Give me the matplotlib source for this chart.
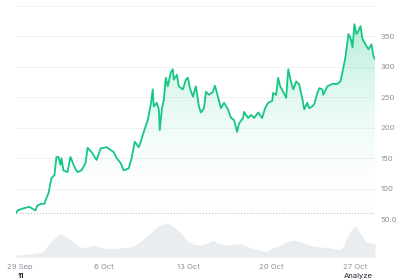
import numpy as np
import pandas as pd
import matplotlib
matplotlib.use('Agg')
import matplotlib.pyplot as plt
import matplotlib.dates as mdates
from matplotlib.colors import LinearSegmentedColormap

plt.rcParams['font.family'] = ['Inter', 'DejaVu Sans']

start = pd.Timestamp('2023-09-29')

# price: days after 29 Sep, value
price_days = [-0.36, -0.23, 0.17, 0.75, 1.01, 1.26, 1.42, 1.76, 2.01, 2.18,
              2.35, 2.60, 2.85, 3.02, 3.19, 3.35, 3.44, 3.60, 3.94, 4.19,
              4.53, 4.78, 5.11, 5.45, 5.62, 5.95, 6.37, 6.71, 7.21, 7.80,
              8.05, 8.38, 8.63, 9.05, 9.30, 9.56, 9.89, 10.06, 10.31, 10.65,
              10.90, 11.06, 11.15, 11.40, 11.57, 11.65, 11.82, 11.99, 12.15, 12.32,
              12.57, 12.74, 12.82, 13.08, 13.24, 13.58, 13.83, 14.00, 14.17, 14.42,
              14.67, 14.92, 15.09, 15.34, 15.51, 15.76, 16.09, 16.26, 16.51, 16.76,
              17.02, 17.35, 17.60, 17.85, 18.11, 18.27, 18.61, 18.69, 19.03, 19.28,
              19.53, 19.87, 20.20, 20.45, 20.70, 21.04, 21.12, 21.37, 21.54, 21.71,
              21.96, 22.21, 22.38, 22.63, 22.80, 23.05, 23.30, 23.55, 23.72, 23.97,
              24.14, 24.39, 24.56, 24.81, 24.98, 25.23, 25.31, 25.65, 26.07, 26.49,
              26.74, 26.91, 27.16, 27.41, 27.58, 27.75, 27.91, 28.08, 28.25, 28.42,
              28.58, 28.92, 29.09, 29.34, 29.51, 29.63]
price = [60, 64, 67, 70, 67, 64, 72, 75, 75, 84,
         92, 117, 122, 152, 152, 139, 150, 130, 127, 152,
         135, 127, 130, 142, 167, 160, 147, 166, 168, 160,
         150, 142, 130, 133, 150, 177, 168, 177, 193, 213,
         238, 263, 235, 241, 230, 196, 230, 246, 282, 268,
         291, 296, 279, 287, 268, 263, 279, 282, 265, 251,
         268, 235, 225, 232, 259, 254, 259, 269, 251, 232,
         241, 230, 216, 213, 193, 207, 216, 226, 216, 221,
         216, 225, 216, 232, 241, 244, 257, 254, 282, 268,
         259, 249, 296, 274, 263, 276, 271, 249, 230, 241,
         232, 235, 239, 257, 265, 263, 254, 268, 272, 272,
         276, 291, 316, 354, 348, 332, 370, 354, 359, 367,
         346, 334, 329, 337, 317, 313]

# volume (relative)
vol_days = [-0.36, 1.03, 1.87, 2.43, 2.99, 3.41, 3.83, 4.38, 4.95, 5.51, 6.06, 6.62, 7.18, 7.74,
            8.30, 8.86, 9.41, 9.97, 10.54, 11.09, 11.65, 12.21, 12.77, 13.33, 13.89, 14.44,
            15.00, 15.57, 16.12, 16.68, 17.24, 17.80, 18.36, 18.92, 19.47, 20.03, 20.60, 21.15,
            21.71, 22.27, 22.82, 23.39, 23.95, 24.50, 25.06, 25.62, 26.18, 26.74, 27.02, 27.30,
            27.72, 28.00, 28.42, 28.87, 29.26, 29.63]
volume = [5, 10, 15, 40, 60, 70, 60, 45, 30, 28, 35, 30, 25, 25,
          27, 28, 32, 45, 60, 80, 95, 102, 90, 75, 50, 38,
          35, 40, 50, 40, 35, 38, 40, 32, 25, 20, 17, 28,
          35, 45, 50, 45, 38, 32, 30, 28, 25, 22, 35, 60,
          85, 92, 70, 45, 42, 38]

y_ticks = [50, 100, 150, 200, 250, 300, 350]
y_labels = ['50.0', '100', '150', '200', '250', '300', '350']
x_ticks = ['2023-09-29', '2023-10-06', '2023-10-13', '2023-10-20', '2023-10-27']
x_labels = ['29 Sep', '6 Oct', '13 Oct', '20 Oct', '27 Oct']
start_price = 60

px = start + pd.to_timedelta(price_days, unit='D')
vx = start + pd.to_timedelta(vol_days, unit='D')
xmin, xmax = px[0], px[-1]

fig = plt.figure(figsize=(4.2, 2.8), dpi=100)
ax = fig.add_axes([16/420, 1 - 219/280, 359/420, 213/280])
axv = fig.add_axes([16/420, 1 - 257/280, 359/420, 38/280])

green = '#16c784'
ax.set_xlim(xmin, xmax)
ax.set_ylim(50, 400)
for v in [50, 100, 150, 200, 250, 300, 350, 400]:
    ax.axhline(v, color='#eff2f5', lw=0.7, zorder=0)
ax.axhline(start_price, color='#a6b0c3', lw=0.7, ls=(0, (1, 2)), zorder=1)

# gradient fill under the line
cmap = LinearSegmentedColormap.from_list('g', [(1, 1, 1, 0), (22/255, 199/255, 132/255, 0.33)])
grad = np.linspace(0, 1, 256).reshape(-1, 1)
xn = mdates.date2num(px)
im = ax.imshow(grad, cmap=cmap, aspect='auto', origin='lower',
               extent=[xn[0], xn[-1], 50, 380], zorder=1)
poly = ax.fill_between(px, price, 50, color='none')
im.set_clip_path(poly.get_paths()[0], transform=ax.transData)
ax.plot(px, price, color=green, lw=1.3, zorder=3, solid_joinstyle='round')

ax.yaxis.tick_right()
ax.set_yticks(y_ticks)
ax.set_yticklabels(y_labels)
ax.tick_params(axis='y', length=0, pad=4, labelsize=5.5, labelcolor='#8a929e')
ax.set_xticks([])
for s in ax.spines.values():
    s.set_visible(False)

axv.set_xlim(xmin, xmax)
axv.set_ylim(0, 113)
axv.fill_between(vx, volume, 0, color='#eaedf0', lw=0)
axv.set_yticks([])
axv.set_xticks(pd.to_datetime(x_ticks))
axv.set_xticklabels(x_labels)
axv.tick_params(axis='x', length=0, pad=5, labelsize=5.5, labelcolor='#8a929e')
for s in axv.spines.values():
    s.set_visible(False)

fig.text(21/420, 1 - 276/280, '11', fontsize=5.5, color='#222531', ha='center', va='center',
         fontweight='bold')
fig.text(358/420, 1 - 276/280, 'Analyze', fontsize=5.5, color='#222531', ha='center', va='center')

fig.savefig('out.png', dpi=100)
